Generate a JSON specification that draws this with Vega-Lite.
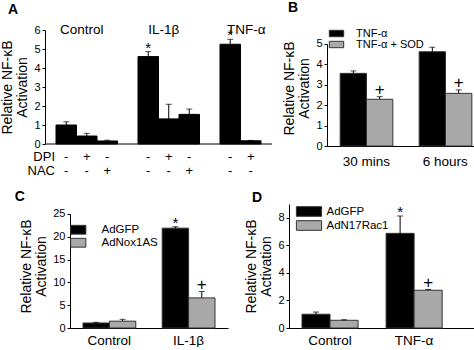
{
  "$schema": "https://vega.github.io/schema/vega-lite/v6.json",
  "padding": {"left": 0, "top": 1, "right": 0, "bottom": 0},
  "spacing": 12,
  "config": {
    "font": "Liberation Sans",
    "view": {"stroke": null},
    "axis": {"domainColor": "#000", "tickColor": "#000", "labelColor": "#000", "titleColor": "#000", "grid": false, "titleFontWeight": "normal", "titleFontSize": 14, "labelFontSize": 11, "tickSize": 3, "labelOverlap": false, "titleLineHeight": 15},
    "title": {"anchor": "start", "frame": "bounds", "fontSize": 14, "fontWeight": "bold", "color": "#000"},
    "legend": {"labelColor": "#000", "labelFontSize": 11}
  },
  "resolve": {"scale": {"color": "independent"}, "legend": {"color": "independent"}},
  "vconcat": [
    {
      "spacing": 9,
      "resolve": {"scale": {"color": "independent"}, "legend": {"color": "independent"}},
      "hconcat": [
        {
          "title": {"text": "A", "offset": 5, "dx": 7},
          "width": 227,
          "height": 114,
          "data": {"values": [
            {"slot": "Control|none", "value": 1.0, "hi": 1.17, "sig": "", "dpi": "-", "nac": "-"},
            {"slot": "Control|DPI", "value": 0.42, "hi": 0.56, "sig": "", "dpi": "+", "nac": "-"},
            {"slot": "Control|NAC", "value": 0.16, "hi": 0.2, "sig": "", "dpi": "-", "nac": "+"},
            {"slot": "IL-1β|none", "value": 4.6, "hi": 4.86, "sig": "*", "dpi": "-", "nac": "-"},
            {"slot": "IL-1β|DPI", "value": 1.32, "hi": 2.09, "sig": "", "dpi": "+", "nac": "-"},
            {"slot": "IL-1β|NAC", "value": 1.56, "hi": 1.84, "sig": "", "dpi": "-", "nac": "+"},
            {"slot": "TNF-α|none", "value": 5.25, "hi": 5.51, "sig": "*", "dpi": "-", "nac": "-"},
            {"slot": "TNF-α|DPI", "value": 0.17, "hi": 0.19, "sig": "", "dpi": "+", "nac": "-"}
          ]},
          "encoding": {
            "x": {"field": "slot", "type": "nominal", "sort": null,
              "scale": {"type": "band", "domain": ["Control|none", "Control|DPI", "Control|NAC", " ", "IL-1β|none", "IL-1β|DPI", "IL-1β|NAC", "  ", "TNF-α|none", "TNF-α|DPI"], "paddingInner": 0, "paddingOuter": 0.537},
              "axis": {"orient": "top", "domain": false, "ticks": false, "title": null, "labelAngle": 0, "labelFontSize": 13.5, "labelPadding": -6,
                "labelExpr": "datum.value == 'Control|DPI' ? 'Control' : datum.value == 'IL-1β|DPI' ? 'IL-1β' : datum.value == 'TNF-α|none' ? 'TNF-α' : ''",
                "labelOffset": {"condition": {"test": "datum.value == 'TNF-α|none'", "value": 16}, "value": -5}}}
          },
          "layer": [
            {"mark": {"type": "bar", "fill": "#000", "stroke": "#000", "strokeWidth": 1},
             "encoding": {"y": {"field": "value", "type": "quantitative", "scale": {"domain": [0, 6], "nice": false},
               "axis": {"values": [0, 1, 2, 3, 4, 5, 6], "labelOverlap": false, "title": ["Relative NF-κB", "Activation"], "titlePadding": 4}}}},
            {"mark": {"type": "rule", "color": "#000"}, "encoding": {"y": {"field": "value", "type": "quantitative", "axis": {"values": [0, 1, 2, 3, 4, 5, 6], "labelOverlap": false, "title": ["Relative NF-κB", "Activation"], "titlePadding": 4}}, "y2": {"field": "hi"}}},
            {"mark": {"type": "tick", "color": "#000", "size": 6, "thickness": 1}, "encoding": {"y": {"field": "hi", "type": "quantitative", "axis": {"values": [0, 1, 2, 3, 4, 5, 6], "labelOverlap": false, "title": ["Relative NF-κB", "Activation"], "titlePadding": 4}}}},
            {"mark": {"type": "text", "fontSize": 15, "baseline": "alphabetic", "dy": 1}, "encoding": {"y": {"field": "hi", "type": "quantitative", "axis": {"values": [0, 1, 2, 3, 4, 5, 6], "labelOverlap": false, "title": ["Relative NF-κB", "Activation"], "titlePadding": 4}}, "text": {"field": "sig"}}},
            {"mark": {"type": "text", "fontSize": 13, "baseline": "middle"}, "encoding": {"y": {"datum": -0.68, "axis": {"values": [0, 1, 2, 3, 4, 5, 6], "labelOverlap": false, "title": ["Relative NF-κB", "Activation"], "titlePadding": 4}}, "text": {"field": "dpi"}}},
            {"mark": {"type": "text", "fontSize": 13, "baseline": "middle"}, "encoding": {"y": {"datum": -1.42, "axis": {"values": [0, 1, 2, 3, 4, 5, 6], "labelOverlap": false, "title": ["Relative NF-κB", "Activation"], "titlePadding": 4}}, "text": {"field": "nac"}}},
            {"data": {"values": [{"label": "DPI"}]},
             "mark": {"type": "text", "fontSize": 13, "baseline": "middle", "align": "right", "dx": -1},
             "encoding": {"x": {"datum": "Control|none", "bandPosition": 0}, "y": {"datum": -0.68, "axis": {"values": [0, 1, 2, 3, 4, 5, 6], "labelOverlap": false, "title": ["Relative NF-κB", "Activation"], "titlePadding": 4}}, "text": {"field": "label"}}},
            {"data": {"values": [{"label": "NAC"}]},
             "mark": {"type": "text", "fontSize": 13, "baseline": "middle", "align": "right", "dx": -1},
             "encoding": {"x": {"datum": "Control|none", "bandPosition": 0}, "y": {"datum": -1.42, "axis": {"values": [0, 1, 2, 3, 4, 5, 6], "labelOverlap": false, "title": ["Relative NF-κB", "Activation"], "titlePadding": 4}}, "text": {"field": "label"}}},
            {"data": {"values": [{"label": "axis"}]}, "mark": {"type": "rule", "color": "#000"}, "encoding": {"x": null, "y": {"datum": 0, "axis": {"values": [0, 1, 2, 3, 4, 5, 6], "labelOverlap": false, "title": ["Relative NF-κB", "Activation"], "titlePadding": 4}}}}
          ]
        },
        {
          "title": {"text": "B", "offset": 13, "dx": 5},
          "width": 158,
          "height": 116,
          "data": {"values": [
            {"slot": "30 mins|TNF-α", "series": "TNF-α", "value": 3.56, "hi": 3.68, "sig": ""},
            {"slot": "30 mins|TNF-α + SOD", "series": "TNF-α + SOD", "value": 2.29, "hi": 2.42, "sig": "+"},
            {"slot": "6 hours|TNF-α", "series": "TNF-α", "value": 4.62, "hi": 4.84, "sig": ""},
            {"slot": "6 hours|TNF-α + SOD", "series": "TNF-α + SOD", "value": 2.58, "hi": 2.75, "sig": "+"}
          ]},
          "encoding": {
            "x": {"field": "slot", "type": "nominal", "sort": null,
              "scale": {"type": "band", "domain": ["30 mins|TNF-α", "30 mins|TNF-α + SOD", " ", "6 hours|TNF-α", "6 hours|TNF-α + SOD"], "paddingInner": 0, "paddingOuter": 0.5},
              "axis": {"title": null, "ticks": false, "labelAngle": 0, "labelFontSize": 13.5, "labelPadding": 8, "labelOffset": 13,
                "labelExpr": "datum.value == '30 mins|TNF-α' ? '30 mins' : datum.value == '6 hours|TNF-α' ? '6 hours' : ''"}}
          },
          "layer": [
            {"mark": {"type": "bar", "stroke": "#333", "strokeWidth": 1},
             "encoding": {
               "y": {"field": "value", "type": "quantitative", "scale": {"domain": [0, 5.686], "nice": false},
                 "axis": {"values": [0, 1, 2, 3, 4, 5], "labelOverlap": false, "title": ["Relative NF-κB", "Activation"], "titlePadding": 4, "domainDash": [102, 60]}},
               "color": {"field": "series", "type": "nominal", "scale": {"domain": ["TNF-α", "TNF-α + SOD"], "range": ["#000000", "#a9a9a9"]},
                 "legend": {"orient": "none", "legendX": 4, "legendY": -2, "title": null, "symbolType": "M-1.8,-0.8H1.8V0.8H-1.8Z", "symbolSize": 64, "symbolStrokeColor": "#333", "symbolStrokeWidth": 1, "symbolOpacity": 1, "labelFontSize": 11, "labelOffset": 14, "rowPadding": -1}}}},
            {"mark": {"type": "rule", "color": "#000"}, "encoding": {"y": {"field": "value", "type": "quantitative", "axis": {"values": [0, 1, 2, 3, 4, 5], "labelOverlap": false, "title": ["Relative NF-κB", "Activation"], "titlePadding": 4, "domainDash": [102, 60]}}, "y2": {"field": "hi"}}},
            {"mark": {"type": "tick", "color": "#000", "size": 6, "thickness": 1}, "encoding": {"y": {"field": "hi", "type": "quantitative", "axis": {"values": [0, 1, 2, 3, 4, 5], "labelOverlap": false, "title": ["Relative NF-κB", "Activation"], "titlePadding": 4, "domainDash": [102, 60]}}}},
            {"mark": {"type": "text", "fontSize": 17, "baseline": "alphabetic", "dy": -2}, "encoding": {"y": {"field": "hi", "type": "quantitative", "axis": {"values": [0, 1, 2, 3, 4, 5], "labelOverlap": false, "title": ["Relative NF-κB", "Activation"], "titlePadding": 4, "domainDash": [102, 60]}}, "text": {"field": "sig"}}}
          ]
        }
      ]
    },
    {
      "spacing": 16,
      "resolve": {"scale": {"color": "independent"}, "legend": {"color": "independent"}},
      "hconcat": [
        {
          "title": {"text": "C", "offset": 0, "dx": -5},
          "width": 183,
          "height": 124,
          "data": {"values": [
            {"slot": "Control|AdGFP", "series": "AdGFP", "value": 1.1, "hi": 1.25, "sig": ""},
            {"slot": "Control|AdNox1AS", "series": "AdNox1AS", "value": 1.5, "hi": 1.9, "sig": ""},
            {"slot": "IL-1β|AdGFP", "series": "AdGFP", "value": 21.9, "hi": 22.2, "sig": "*"},
            {"slot": "IL-1β|AdNox1AS", "series": "AdNox1AS", "value": 6.6, "hi": 8.0, "sig": "+"}
          ]},
          "encoding": {
            "x": {"field": "slot", "type": "nominal", "sort": null,
              "scale": {"type": "band", "domain": ["Control|AdGFP", "Control|AdNox1AS", " ", "IL-1β|AdGFP", "IL-1β|AdNox1AS"], "paddingInner": 0, "paddingOuter": 0.966, "align": 0.745},
              "axis": {"title": null, "ticks": false, "labelAngle": 0, "labelFontSize": 13.5, "labelPadding": 5, "labelOffset": 13, "domainDash": [0, 25, 158, 100],
                "labelExpr": "datum.value == 'Control|AdGFP' ? 'Control' : datum.value == 'IL-1β|AdGFP' ? 'IL-1β' : ''"}}
          },
          "layer": [
            {"mark": {"type": "bar", "stroke": "#333", "strokeWidth": 1},
             "encoding": {
               "y": {"field": "value", "type": "quantitative", "scale": {"domain": [0, 27.19], "nice": false},
                 "axis": {"values": [0, 5, 10, 15, 20, 25], "labelOverlap": false, "title": ["Relative NF-κB", "Activation"], "titlePadding": 4, "offset": -25, "domainDash": [114, 40]}},
               "color": {"field": "series", "type": "nominal", "scale": {"domain": ["AdGFP", "AdNox1AS"], "range": ["#000000", "#a9a9a9"]},
                 "legend": {"orient": "none", "legendX": 27.5, "legendY": 20, "title": null, "symbolType": "M-1.52,-0.88H1.52V0.88H-1.52Z", "symbolSize": 100, "symbolStrokeColor": "#333", "symbolStrokeWidth": 1, "symbolOpacity": 1, "labelFontSize": 11.5, "labelOffset": 17.5, "rowPadding": -2.5}}}},
            {"mark": {"type": "rule", "color": "#000"}, "encoding": {"y": {"field": "value", "type": "quantitative", "axis": {"values": [0, 5, 10, 15, 20, 25], "labelOverlap": false, "title": ["Relative NF-κB", "Activation"], "titlePadding": 4, "offset": -25, "domainDash": [114, 40]}}, "y2": {"field": "hi"}}},
            {"mark": {"type": "tick", "color": "#000", "size": 6, "thickness": 1}, "encoding": {"y": {"field": "hi", "type": "quantitative", "axis": {"values": [0, 5, 10, 15, 20, 25], "labelOverlap": false, "title": ["Relative NF-κB", "Activation"], "titlePadding": 4, "offset": -25, "domainDash": [114, 40]}}}},
            {"transform": [{"filter": "datum.sig == '*'"}], "mark": {"type": "text", "fontSize": 15, "baseline": "alphabetic", "dy": 1}, "encoding": {"y": {"field": "hi", "type": "quantitative", "axis": {"values": [0, 5, 10, 15, 20, 25], "labelOverlap": false, "title": ["Relative NF-κB", "Activation"], "titlePadding": 4, "offset": -25, "domainDash": [114, 40]}}, "text": {"field": "sig"}}},
            {"transform": [{"filter": "datum.sig == '+'"}], "mark": {"type": "text", "fontSize": 17, "baseline": "alphabetic", "dy": -2}, "encoding": {"y": {"field": "hi", "type": "quantitative", "axis": {"values": [0, 5, 10, 15, 20, 25], "labelOverlap": false, "title": ["Relative NF-κB", "Activation"], "titlePadding": 4, "offset": -25, "domainDash": [114, 40]}}, "text": {"field": "sig"}}}
          ]
        },
        {
          "title": {"text": "D", "offset": -1, "dx": 7},
          "width": 185,
          "height": 124,
          "data": {"values": [
            {"slot": "Control|AdGFP", "series": "AdGFP", "value": 1.0, "hi": 1.16, "sig": ""},
            {"slot": "Control|AdN17Rac1", "series": "AdN17Rac1", "value": 0.56, "hi": 0.6, "sig": ""},
            {"slot": "TNF-α|AdGFP", "series": "AdGFP", "value": 6.87, "hi": 8.13, "sig": "*"},
            {"slot": "TNF-α|AdN17Rac1", "series": "AdN17Rac1", "value": 2.74, "hi": 2.8, "sig": "+"}
          ]},
          "encoding": {
            "x": {"field": "slot", "type": "nominal", "sort": null,
              "scale": {"type": "band", "domain": ["Control|AdGFP", "Control|AdN17Rac1", " ", "TNF-α|AdGFP", "TNF-α|AdN17Rac1"], "paddingInner": 0, "paddingOuter": 0.8, "align": 0.29},
              "axis": {"title": null, "ticks": false, "labelAngle": 0, "labelFontSize": 13.5, "labelPadding": 5, "labelOffset": 14,
                "labelExpr": "datum.value == 'Control|AdGFP' ? 'Control' : datum.value == 'TNF-α|AdGFP' ? 'TNF-α' : ''"}}
          },
          "layer": [
            {"mark": {"type": "bar", "stroke": "#333", "strokeWidth": 1},
             "encoding": {
               "y": {"field": "value", "type": "quantitative", "scale": {"domain": [0, 9], "nice": false},
                 "axis": {"values": [0, 2, 4, 6, 8], "labelOverlap": false, "title": ["Relative NF-κB", "Activation"], "titlePadding": 4}},
               "color": {"field": "series", "type": "nominal", "scale": {"domain": ["AdGFP", "AdN17Rac1"], "range": ["#000000", "#a9a9a9"]},
                 "legend": {"orient": "none", "legendX": 13.5, "legendY": 1, "title": null, "symbolType": "M-2.1,-0.8H2.1V0.8H-2.1Z", "symbolSize": 144, "symbolStrokeColor": "#333", "symbolStrokeWidth": 1, "symbolOpacity": 1, "labelFontSize": 11.5, "labelOffset": 11, "rowPadding": -2}}}},
            {"mark": {"type": "rule", "color": "#000"}, "encoding": {"y": {"field": "value", "type": "quantitative", "axis": {"values": [0, 2, 4, 6, 8], "labelOverlap": false, "title": ["Relative NF-κB", "Activation"], "titlePadding": 4}}, "y2": {"field": "hi"}}},
            {"mark": {"type": "tick", "color": "#000", "size": 6, "thickness": 1}, "encoding": {"y": {"field": "hi", "type": "quantitative", "axis": {"values": [0, 2, 4, 6, 8], "labelOverlap": false, "title": ["Relative NF-κB", "Activation"], "titlePadding": 4}}}},
            {"transform": [{"filter": "datum.sig == '*'"}], "mark": {"type": "text", "fontSize": 15, "baseline": "alphabetic", "dy": 1}, "encoding": {"y": {"field": "hi", "type": "quantitative", "axis": {"values": [0, 2, 4, 6, 8], "labelOverlap": false, "title": ["Relative NF-κB", "Activation"], "titlePadding": 4}}, "text": {"field": "sig"}}},
            {"transform": [{"filter": "datum.sig == '+'"}], "mark": {"type": "text", "fontSize": 17, "baseline": "alphabetic", "dy": -1}, "encoding": {"y": {"field": "hi", "type": "quantitative", "axis": {"values": [0, 2, 4, 6, 8], "labelOverlap": false, "title": ["Relative NF-κB", "Activation"], "titlePadding": 4}}, "text": {"field": "sig"}}}
          ]
        }
      ]
    }
  ]
}
